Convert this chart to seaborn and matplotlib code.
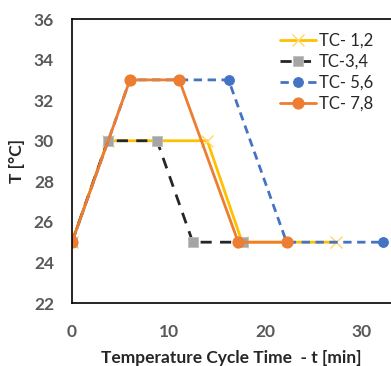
import matplotlib
matplotlib.use('Agg')
import matplotlib.pyplot as plt
import seaborn as sns
import pandas as pd

# Temperature cycle data
tc12_t = [0, 3.7, 14.0, 17.6, 27.3]
tc12_T = [25, 30, 30, 25, 25]
tc34_t = [0, 3.7, 8.8, 12.5, 17.7]
tc34_T = [25, 30, 30, 25, 25]
tc56_t = [0, 6.0, 11.1, 16.2, 22.2, 32.2]
tc56_T = [25, 33, 33, 33, 25, 25]
tc78_t = [0, 6.0, 11.1, 17.2, 22.2]
tc78_T = [25, 33, 33, 25, 25]

sns.set_style('white')
plt.rcParams['font.family'] = ['Lato', 'DejaVu Sans']

fig = plt.figure(figsize=(3.91, 3.66), dpi=100)
ax = fig.add_axes([0.184, 0.172, 0.816, 0.776])

styles = [
    ('TC- 1,2', tc12_t, tc12_T, dict(color='#FFC000', linestyle='-', marker='x',
                                      markersize=8, markeredgecolor='#FFD966', markeredgewidth=1.0)),
    ('TC-3,4', tc34_t, tc34_T, dict(color='#262626', linestyle=(0, (4, 3)), marker='s',
                                     markersize=7, markerfacecolor='#A5A5A5',
                                     markeredgecolor='#BFBFBF', markeredgewidth=0.6)),
    ('TC- 5,6', tc56_t, tc56_T, dict(color='#4472C4', linestyle=(0, (3, 2)), marker='o',
                                      markersize=7, markerfacecolor='#4472C4',
                                      markeredgecolor='#4472C4')),
    ('TC- 7,8', tc78_t, tc78_T, dict(color='#ED7D31', linestyle='-', marker='o',
                                      markersize=8, markerfacecolor='#ED7D31',
                                      markeredgecolor='#ED7D31')),
]

for label, t, T, kw in styles:
    df = pd.DataFrame({'t': t, 'T': T})
    sns.lineplot(data=df, x='t', y='T', ax=ax, label=label, linewidth=2,
                 sort=False, estimator=None, **kw)

ax.set_xlim(0, 33)
ax.set_ylim(22, 36)
ax.set_xticks([0, 10, 20, 30])
ax.set_yticks([22, 24, 26, 28, 30, 32, 34, 36])
ax.tick_params(axis='both', length=0, labelsize=12.5, labelcolor='#595959')
ax.tick_params(axis='x', pad=15)
ax.tick_params(axis='y', pad=13)
for lbl in ax.get_xticklabels() + ax.get_yticklabels():
    lbl.set_fontweight('bold')

for side in ['left', 'bottom', 'top']:
    ax.spines[side].set_color('#000000')
    ax.spines[side].set_linewidth(1.2)
ax.spines['right'].set_visible(False)

ax.set_xlabel('Temperature Cycle Time  - t [min]', fontsize=12.5, fontweight='bold', labelpad=7)
ax.set_ylabel('T [°C]', fontsize=12.5, fontweight='bold', labelpad=6)

ax.legend(loc='upper right', bbox_to_anchor=(0.965, 0.975), frameon=False, fontsize=12,
          handlelength=2.2, handletextpad=0.15, labelspacing=0.3, borderaxespad=0)

fig.savefig('out.png', dpi=100)
